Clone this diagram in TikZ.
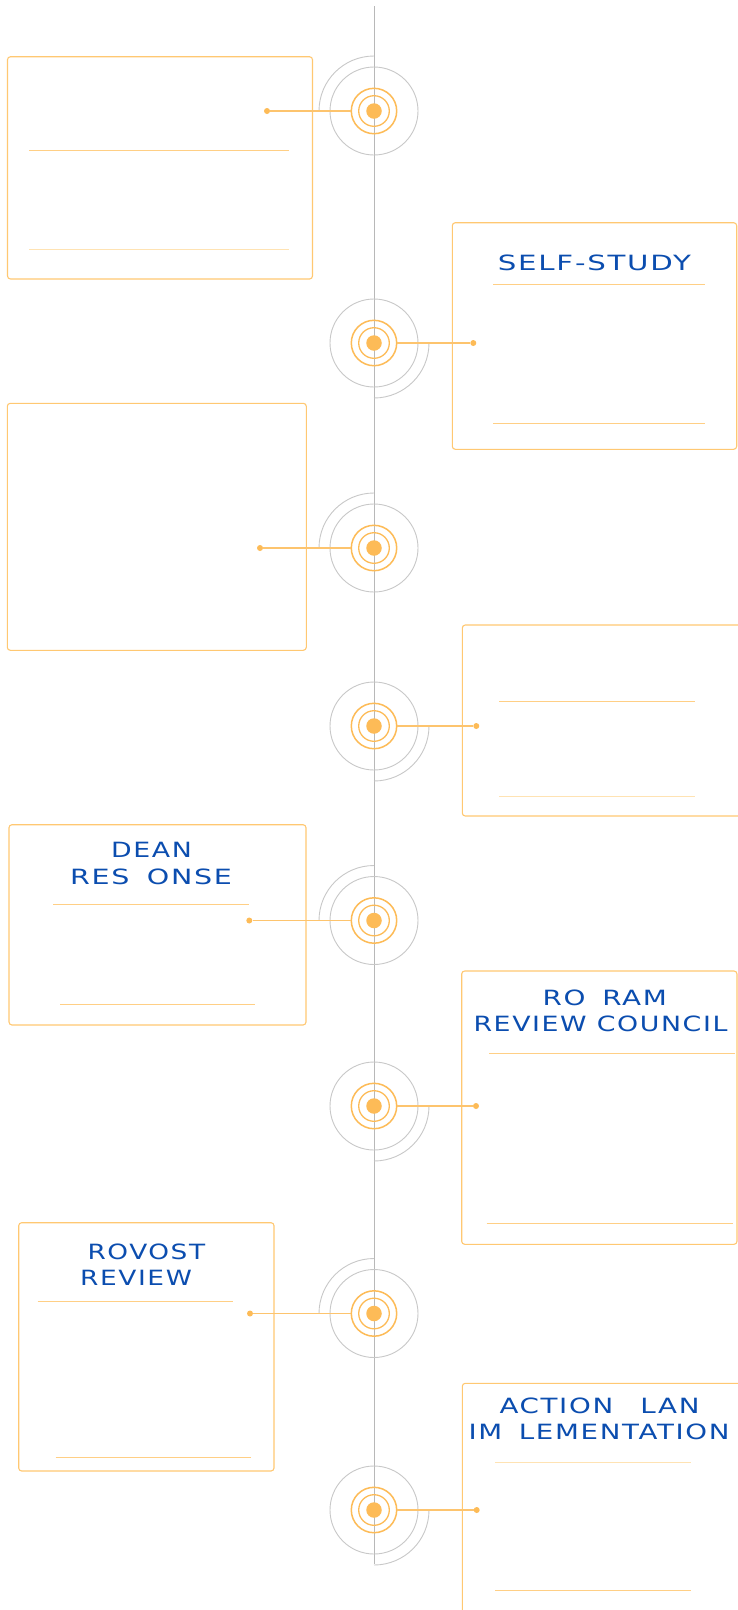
\documentclass[tikz,border=0pt]{standalone}
\usepackage{fontspec}
\usepackage{graphicx}
\newfontfamily\steptitlefont[LetterSpace=6]{DejaVu Sans}
\definecolor{accent}{HTML}{FDBB57}
\definecolor{linkcol}{HTML}{FDC46E}
\definecolor{boxcol}{HTML}{FFC872}
\definecolor{sepcol}{HTML}{FFCF85}
\definecolor{sepsoft}{HTML}{FFE3B3}
\definecolor{spinegray}{HTML}{B8B8B8}
\definecolor{halogray}{HTML}{C8C8C8}
\definecolor{titleblue}{HTML}{0B4DAF}
% stretch a title line to a given width, keeping its height
\newcommand\fitline[2]{\resizebox{#1pt}{\height}{#2}}
\newcommand\gap{\phantom{P}}
\begin{document}
\begin{tikzpicture}[x=1pt,y=-1pt,
  spineline/.style={draw=spinegray, line width=0.9pt},
  haloline/.style={draw=halogray, line width=0.9pt},
  outerring/.style={circle, draw=accent, line width=1.5pt, inner sep=0pt, minimum size=45.4pt},
  innerring/.style={circle, draw=accent, line width=1.3pt, inner sep=0pt, minimum size=30.6pt},
  coredot/.style={circle, fill=accent, inner sep=0pt, minimum size=15.5pt},
  enddot/.style={circle, fill=accent, inner sep=0pt, minimum size=6pt},
  linkline/.style={draw=linkcol, line width=1.1pt},
  cardbox/.style={draw=boxcol, line width=1.1pt, rounded corners=3pt},
  seprule/.style={draw=sepcol, line width=1pt},
  softrule/.style={draw=sepsoft, line width=1.3pt},
  steptitle/.style={anchor=base west, inner sep=0pt, text=titleblue,
    font=\steptitlefont\fontsize{21}{21}\selectfont}]
\clip (0,0) rectangle (738,1610);
\fill[white] (0,0) rectangle (738,1610);

% cards
\draw[cardbox] (7.5,56.7) rectangle (312.5,279);
\draw[cardbox] (452.3,222.7) rectangle (736.7,449.3);
\draw[cardbox] (7.3,403.3) rectangle (306.3,650.3);
\draw[cardbox] (462.3,625) rectangle (760,816);
\draw[cardbox] (9,824.7) rectangle (306,1025);
\draw[cardbox] (461.7,971) rectangle (737,1244.3);
\draw[cardbox] (18.7,1222.7) rectangle (274,1471);
\draw[cardbox] (462.3,1383.3) rectangle (760,1640);

% separators inside the cards
\draw[seprule] (29,150.3) -- (289,150.3);
\draw[softrule] (29,249.7) -- (289,249.7);
\draw[seprule] (493,284) -- (705,284);
\draw[seprule] (493,423.3) -- (705,423.3);
\draw[seprule] (499,701) -- (694.7,701);
\draw[softrule] (499,796.7) -- (694.7,796.7);
\draw[seprule] (53,904.3) -- (248.7,904.3);
\draw[seprule] (60,1004) -- (255.3,1004);
\draw[seprule] (489.3,1053.3) -- (735,1053.3);
\draw[seprule] (486.7,1223.3) -- (732.7,1223.3);
\draw[seprule] (37.7,1301) -- (233.3,1301);
\draw[seprule] (55.7,1457.3) -- (251,1457.3);
\draw[softrule] (495,1462.7) -- (690.7,1462.7);
\draw[seprule] (495,1590) -- (690.7,1590);

% titles
\node[steptitle] (t1) at (497.7,270) {\fitline{193}{SELF-STUDY}};
\node[steptitle] (t2) at (111,857.7) {\fitline{80.7}{DEAN}};
\node[steptitle] (t3) at (70,884) {\fitline{161.7}{RES\gap ONSE}};
\node[steptitle] (t4) at (542.3,1005) {\fitline{124.4}{RO\gap RAM}};
\node[steptitle] (t5) at (473.3,1031.7) {\fitline{254}{REVIEW COUNCIL}};
\node[steptitle] (t6) at (87.3,1259) {\fitline{117.7}{ROVOST}};
\node[steptitle] (t7) at (80,1285.3) {\fitline{111.7}{REVIEW}};
\node[steptitle] (t8) at (499.3,1413.3) {\fitline{200}{ACTION \gap LAN}};
\node[steptitle] (t9) at (468.3,1439.3) {\fitline{261}{IM\gap LEMENTATION}};

% timeline spine
\coordinate (top) at (374,6);
\coordinate (bottom) at (374,1564);
\draw[spineline] (top) -- (bottom);

% milestones
\foreach \i/\y/\dx/\as/\ae in {1/111/267/90/180, 2/343/473.3/0/-90,
    3/548/260/90/180, 4/726/476.3/0/-90, 5/920.5/249.3/90/180,
    6/1106/476/0/-90, 7/1313.5/250/90/180, 8/1510/476.7/0/-90}{
  \coordinate (c\i) at (374,\y);
  \draw[haloline] (c\i) circle[radius=44pt];
  \draw[haloline] (c\i) ++(\as:55pt) arc[start angle=\as, end angle=\ae, radius=55pt];
  \node[outerring] (r\i) at (c\i) {};
  \node[innerring] (ir\i) at (c\i) {};
  \node[coredot] (k\i) at (c\i) {};
  \node[enddot] (d\i) at (\dx,\y) {};
  \draw[linkline] (r\i) -- (d\i);
}
\end{tikzpicture}
\end{document}
